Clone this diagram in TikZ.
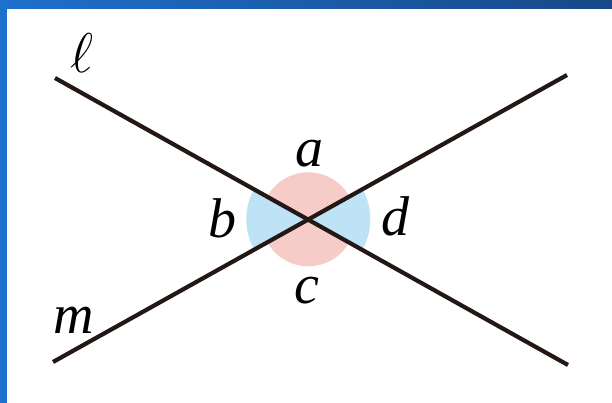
\RequirePackage{fix-cm}
\documentclass[tikz,border=0pt]{standalone}
\usepackage{fontspec}
\setmainfont{Liberation Serif}
\begin{document}
\begin{tikzpicture}[x=1pt,y=-1pt,
  lbl/.style={anchor=base,inner sep=0pt,font=\fontsize{56}{60}\selectfont\itshape},
  lineseg/.style={draw=linec,line width=4.2pt},
]
\definecolor{linec}{RGB}{35,24,21}
\definecolor{pinkc}{RGB}{246,204,200}
\definecolor{bluec}{RGB}{190,227,247}
\definecolor{bgl}{RGB}{30,112,205}
\definecolor{bgr}{RGB}{24,72,135}
\useasboundingbox (0,0) rectangle (612,403);
\shade[left color=bgl,right color=bgr] (0,0) rectangle (612,403);
\fill[white] (7,9) rectangle (612,403);
\coordinate (L1) at (55,78);
\coordinate (L2) at (568,365);
\coordinate (M1) at (53,362);
\coordinate (M2) at (567,75);
\coordinate (O) at (308.3,219.3);
\begin{scope}
  \clip (O) circle[radius=47];
  \fill[pinkc] (O) -- (L1) -- (M2) -- cycle;
  \fill[pinkc] (O) -- (M1) -- (L2) -- cycle;
\end{scope}
\begin{scope}
  \clip (O) circle[radius=62];
  \fill[bluec] (O) -- (L1) -- (M1) -- cycle;
  \fill[bluec] (O) -- (M2) -- (L2) -- cycle;
\end{scope}
\draw[lineseg] (L1) -- (L2);
\draw[lineseg] (M1) -- (M2);
\node[lbl] (la) at (309,167) {a};
\node[lbl] (lb) at (222,237) {b};
\node[lbl] (lc) at (307,303) {c};
\node[lbl] (ld) at (395,235) {d};
\node[lbl] (lm) at (74,333) {m};
\node[lbl] (lell) at (82,73) {$\ell$};
\end{tikzpicture}
\end{document}
